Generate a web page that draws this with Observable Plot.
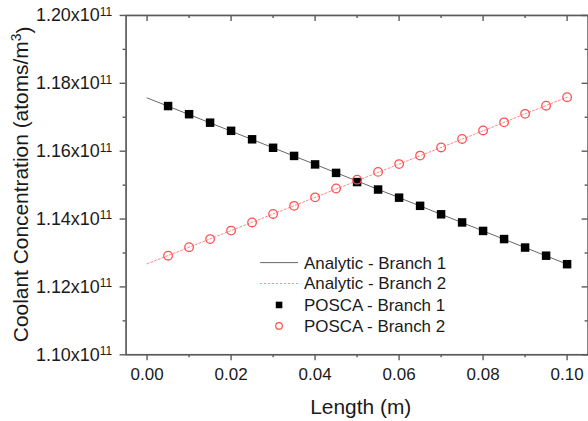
<!DOCTYPE html>
<html><head><meta charset="utf-8">
<script src="https://cdn.jsdelivr.net/npm/d3@7"></script>
<script src="https://cdn.jsdelivr.net/npm/@observablehq/plot@0.6"></script>
<style>
html,body{margin:0;padding:0;overflow:hidden;background:#fff;}
#chart{width:588px;height:421px;overflow:hidden;}
</style>
</head><body><div id="chart"></div>
<script>
// ---- data (concentration in units of 1e11 atoms/m^3) ----
const lengthPosca = [0.005,0.010,0.015,0.020,0.025,0.030,0.035,0.040,0.045,0.050,0.055,0.060,0.065,0.070,0.075,0.080,0.085,0.090,0.095,0.100];
const poscaBranch1 = [1.1733,1.1709,1.1684,1.1660,1.1635,1.1610,1.1586,1.1561,1.1536,1.1509,1.1487,1.1463,1.1439,1.1414,1.1390,1.1365,1.1341,1.1316,1.1292,1.1267];
const poscaBranch2 = [1.1292,1.1317,1.1341,1.1366,1.1390,1.1415,1.1439,1.1464,1.1490,1.1516,1.1539,1.1562,1.1587,1.1611,1.1636,1.1661,1.1685,1.1710,1.1734,1.1759];
const lengthAnalytic = [0.00,0.01,0.02,0.03,0.04,0.05,0.06,0.07,0.08,0.09,0.10];
const analyticBranch1 = [1.1757,1.1708,1.1659,1.1610,1.1561,1.1512,1.1463,1.1414,1.1365,1.1316,1.1267];
const analyticBranch2 = [1.1268,1.1317,1.1366,1.1415,1.1464,1.1513,1.1562,1.1611,1.1660,1.1710,1.1759];
const xMajorTicks = [0.00,0.02,0.04,0.06,0.08,0.10];
const xMinorTicks = [0.01,0.03,0.05,0.07,0.09];
const yMajorTicks = [1.10,1.12,1.14,1.16,1.18,1.20];
const yMinorTicks = [1.11,1.13,1.15,1.17,1.19];
const legendLabels = ["Analytic - Branch 1","Analytic - Branch 2","POSCA - Branch 1","POSCA - Branch 2"];
const xTitle = "Length (m)";
const yTitle = "Coolant Concentration (atoms/m";
const yExponent = "11";

const posca1 = lengthPosca.map((x,i)=>({x, y: poscaBranch1[i]}));
const posca2 = lengthPosca.map((x,i)=>({x, y: poscaBranch2[i]}));
const ana1 = lengthAnalytic.map((x,i)=>({x, y: analyticBranch1[i]}));
const ana2 = lengthAnalytic.map((x,i)=>({x, y: analyticBranch2[i]}));

const W = 590, H = 421, mL = 126, mT = 15, mB = 65.5, mR = 0.4;
const plotW = W - mL - mR, plotH = H - mT - mB;
const axisGrey = "#5a5a5a";
const red = "#ff4f4f";
const ink = "#1a1a1a";

const chart = Plot.plot({
  width: W, height: H,
  marginLeft: mL, marginTop: mT, marginBottom: mB, marginRight: mR,
  style: {fontFamily: "'Liberation Sans', Arial, sans-serif", background: "#fff", color: ink, overflow: "visible"},
  x: {domain: [-0.005, 0.105]},
  y: {domain: [1.10, 1.20]},
  marks: [
    // data
    Plot.line(ana1, {x: "x", y: "y", stroke: "#555", strokeWidth: 0.9}),
    Plot.line(ana2, {x: "x", y: "y", stroke: "#ff8a8a", strokeWidth: 1, strokeDasharray: "2,2"}),
    Plot.dot(posca1, {x: "x", y: "y", symbol: "square", r: 4.8, fill: "#000", stroke: "none"}),
    Plot.dot(posca2, {x: "x", y: "y", symbol: "circle", r: 4.3, fill: "none", stroke: red, strokeWidth: 1.3}),
    // axes (outward bottom/left)
    Plot.axisX(xMajorTicks, {anchor: "bottom", tickSize: 6, tickPadding: 7, tickFormat: d => d.toFixed(2), fontSize: 17, stroke: axisGrey, fill: ink, strokeWidth: 1.4, label: null}),
    Plot.axisX(xMinorTicks, {anchor: "bottom", tickSize: 3, tickFormat: () => "", stroke: axisGrey, strokeWidth: 1.4, label: null}),
    Plot.axisY(yMajorTicks, {anchor: "left", tickSize: 6, tickPadding: 8, tickFormat: d => d.toFixed(2) + "x10", fontSize: 18, stroke: axisGrey, fill: ink, strokeWidth: 1.4, label: null}),
    Plot.axisY(yMinorTicks, {anchor: "left", tickSize: 3, tickFormat: () => "", stroke: axisGrey, strokeWidth: 1.4, label: null}),
    // inward top / right ticks
    Plot.ruleX(xMajorTicks, {x: d => d, insetBottom: plotH - 6, stroke: axisGrey, strokeWidth: 1.4}),
    Plot.ruleX(xMinorTicks, {x: d => d, insetBottom: plotH - 3, stroke: axisGrey, strokeWidth: 1.4}),
    Plot.ruleY(yMajorTicks, {y: d => d, insetLeft: plotW - 6, stroke: axisGrey, strokeWidth: 1.4}),
    Plot.ruleY(yMinorTicks, {y: d => d, insetLeft: plotW - 3, stroke: axisGrey, strokeWidth: 1.4}),
    Plot.frame({stroke: axisGrey, strokeWidth: 1.7})
  ]
});
document.getElementById("chart").appendChild(chart);

const svg = d3.select(chart);
// superscript exponents on y tick labels
svg.selectAll('[aria-label="y-axis tick label"] text').each(function() {
  const t = d3.select(this);
  if (!t.text()) return;
  t.append("tspan").attr("dy", "-0.45em").attr("font-size", "12px").text(yExponent);
});

const font = "'Liberation Sans', Arial, sans-serif";
// axis titles
svg.append("text").attr("x", 362).attr("y", 408).attr("dy", "0.35em")
  .attr("text-anchor", "middle").attr("font-family", font).attr("font-size", "21px").attr("fill", ink)
  .text(xTitle);
const yt = svg.append("text").attr("transform", "translate(28,185) rotate(-90)")
  .attr("text-anchor", "middle").attr("font-family", font).attr("font-size", "21px").attr("fill", ink);
yt.append("tspan").text(yTitle);
yt.append("tspan").attr("dy", "-0.5em").attr("font-size", "14px").text("3");
yt.append("tspan").attr("dy", "0.5em").text(")");

// legend
const lg = svg.append("g").attr("font-family", font).attr("font-size", "17px").attr("fill", ink).attr("text-anchor", "start");
const rows = [263.5, 284.5, 306, 327];
lg.append("line").attr("x1", 261).attr("x2", 299).attr("y1", rows[0]).attr("y2", rows[0]).attr("stroke", "#555").attr("stroke-width", 0.9);
lg.append("line").attr("x1", 261).attr("x2", 299).attr("y1", rows[1]).attr("y2", rows[1]).attr("stroke", "#ff8a8a").attr("stroke-width", 1).attr("stroke-dasharray", "2,2");
lg.append("rect").attr("x", 280 - 3.3).attr("y", rows[2] - 3.3).attr("width", 6.6).attr("height", 6.6).attr("fill", "#000");
lg.append("circle").attr("cx", 280).attr("cy", rows[3]).attr("r", 3.3).attr("fill", "none").attr("stroke", red).attr("stroke-width", 1.2);
legendLabels.forEach((lab, i) => {
  lg.append("text").attr("x", 305).attr("y", rows[i]).attr("dy", "0.35em").attr("text-anchor", "start").text(lab);
});
</script>
</body></html>
